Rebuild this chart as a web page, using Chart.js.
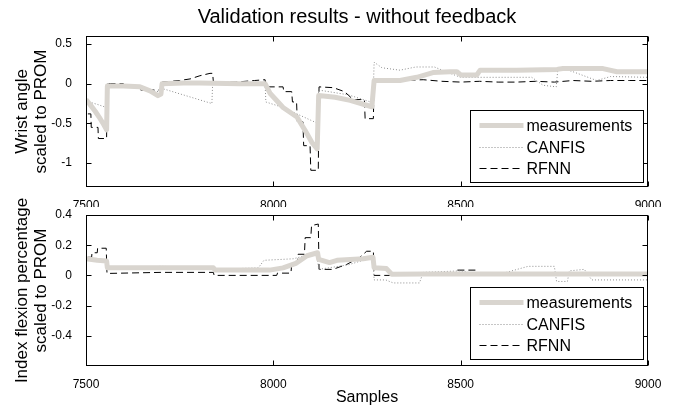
<!DOCTYPE html>
<html>
<head>
<meta charset="utf-8">
<script src="https://cdn.jsdelivr.net/npm/chart.js@4.4.0/dist/chart.umd.min.js"></script>
<style>
  body { margin: 0; background: #fff; }
  #wrap { position: relative; width: 675px; height: 412px; font-family: "Liberation Sans", Arial, sans-serif; }
  #title { position: absolute; left: 0; top: 5px; width: 714px; text-align: center; font-size: 20px; line-height: 23px; color: #000; }
  #c1 { position: absolute; left: 0; top: 0; }
  #c2 { position: absolute; left: 0; top: 190px; }
</style>
</head>
<body>
<div id="wrap">
  <canvas id="c1" width="675" height="207"></canvas>
  <canvas id="c2" width="675" height="222"></canvas>
  <div id="title">Validation results - without feedback</div>
</div>
<script>
// tick labels
const xTicks = [7500, 8000, 8500, 9000];
const wristTicks = [-1, -0.5, 0, 0.5];
const indexTicks = [-0.4, -0.2, 0, 0.2, 0.4];
const seriesNames = ['measurements', 'CANFIS', 'RFNN'];

// wrist angle (top panel), [sample, value]
const wristMeas = [[7500,-0.2],[7512,-0.27],[7525,-0.35],[7535,-0.42],[7548,-0.52],[7555,-0.58],[7557,-0.03],[7600,-0.03],
  [7644,-0.04],[7671,-0.09],[7692,-0.15],[7700,-0.13],[7703,0.0],[7760,0.01],[7804,0.01],[7911,0.0],[7978,0.0],
  [7991,-0.12],[8026,-0.3],[8063,-0.42],[8085,-0.59],[8103,-0.74],[8117,-0.82],[8121,-0.15],[8165,-0.17],[8205,-0.21],
  [8263,-0.29],[8269,0.04],[8338,0.04],[8383,0.08],[8426,0.14],[8472,0.15],[8490,0.15],[8500,0.11],[8543,0.11],
  [8552,0.17],[8650,0.17],[8757,0.18],[8773,0.19],[8880,0.19],[8917,0.15],[9000,0.15]];
const wristCanfis = [[7500,-0.22],[7530,-0.26],[7555,-0.3],[7557,0.0],[7600,-0.03],[7650,-0.05],[7670,-0.09],[7700,-0.1],
  [7703,-0.06],[7836,-0.25],[7838,0.0],[7978,0.0],[7980,-0.23],[8026,-0.3],[8100,-0.46],[8119,-0.5],[8121,-0.08],
  [8200,-0.14],[8266,-0.24],[8269,0.27],[8290,0.2],[8338,0.17],[8380,0.21],[8430,0.21],[8472,0.13],[8500,0.08],
  [8690,0.08],[8720,-0.02],[8755,-0.04],[8760,0.21],[8800,0.15],[8863,0.04],[8900,0.09],[9000,0.08]];
const wristRfnn = [[7505,-0.38],[7513,-0.38],[7514,-0.55],[7532,-0.55],[7533,-0.69],[7555,-0.69],[7556,0.0],[7600,0.0],
  [7602,-0.03],[7644,-0.03],[7646,-0.08],[7700,-0.08],[7702,0.02],[7750,0.04],[7778,0.06],[7804,0.1],[7831,0.13],
  [7838,0.13],[7840,0.02],[7900,0.02],[7950,0.04],[7978,0.05],[7980,-0.04],[8026,-0.04],[8028,-0.1],[8049,-0.1],
  [8051,-0.23],[8062,-0.23],[8064,-0.48],[8079,-0.48],[8081,-0.78],[8098,-0.78],[8100,-1.09],[8120,-1.09],[8122,-0.04],
  [8160,-0.05],[8190,-0.1],[8213,-0.2],[8243,-0.2],[8245,-0.44],[8267,-0.44],[8269,0.04],[8340,0.04],[8400,0.05],
  [8450,0.03],[8500,0.02],[8550,0.03],[8600,0.02],[8650,0.02],[8700,0.03],[8750,0.02],[8800,0.04],[8850,0.03],
  [8900,0.04],[8950,0.04],[9000,0.04]];

// index flexion (bottom panel), [sample, value]
const indexMeas = [[7500,0.11],[7530,0.1],[7555,0.095],[7557,0.05],[7700,0.05],[7840,0.05],[7845,0.035],[7990,0.035],
  [8026,0.05],[8060,0.08],[8090,0.13],[8118,0.15],[8121,0.106],[8150,0.085],[8170,0.1],[8240,0.11],[8266,0.12],
  [8269,0.05],[8302,0.045],[8316,0.008],[8400,0.01],[9000,0.01]];
const indexCanfis = [[7500,0.1],[7555,0.1],[7557,0.045],[7650,0.055],[7700,0.06],[7840,0.05],[7842,0.04],[7960,0.05],
  [7975,0.1],[8053,0.11],[8116,0.15],[8121,0.04],[8200,0.07],[8266,0.12],[8269,-0.03],[8300,-0.03],[8320,-0.05],
  [8390,-0.05],[8400,0.02],[8500,0.03],[8540,0.01],[8600,0.005],[8680,0.06],[8750,0.06],[8756,-0.04],[8785,-0.04],
  [8790,0.03],[8830,0.04],[8850,-0.03],[9000,-0.03]];
const indexRfnn = [[7505,0.12],[7515,0.12],[7516,0.15],[7530,0.15],[7531,0.18],[7554,0.18],[7556,0.013],[7700,0.02],
  [7840,0.02],[7842,0.0],[8009,0.0],[8011,0.015],[8047,0.015],[8049,0.073],[8064,0.073],[8066,0.14],[8083,0.14],
  [8085,0.25],[8100,0.25],[8102,0.33],[8120,0.34],[8122,0.04],[8159,0.04],[8196,0.073],[8231,0.12],[8249,0.16],
  [8267,0.16],[8269,0.0],[8340,0.0],[8400,0.005],[8487,0.005],[8489,0.035],[8543,0.035],[8545,0.0],[9000,0.0]];

const FONT = '"Liberation Sans", Arial, sans-serif';

// MATLAB style box, inward ticks and boxed legend
const matlabFrame = {
  id: 'matlabFrame',
  afterDatasetsDraw(chart, args, opts) {
    const { ctx, chartArea: a, scales: { x, y } } = chart;
    const L = Math.round(a.left) + 0.5, R = Math.round(a.right) - 0.5;
    const T = Math.round(a.top) + 0.5, B = Math.round(a.bottom) - 0.5;
    ctx.save();
    ctx.strokeStyle = '#000';
    ctx.lineWidth = 1;
    ctx.setLineDash([]);
    ctx.strokeRect(L, T, R - L, B - T);
    ctx.beginPath();
    x.ticks.forEach(t => {
      const p = Math.round(x.getPixelForValue(t.value)) + 0.5;
      ctx.moveTo(p, B); ctx.lineTo(p, B - 5);
      ctx.moveTo(p, T); ctx.lineTo(p, T + 5);
    });
    y.ticks.forEach(t => {
      const p = Math.round(y.getPixelForValue(t.value)) + 0.5;
      ctx.moveTo(L, p); ctx.lineTo(L + 5, p);
      ctx.moveTo(R, p); ctx.lineTo(R - 5, p);
    });
    ctx.stroke();

    // legend
    const w = 173, h = 72;
    const bx = Math.round(a.right - 5 - w) + 0.5;
    const by = Math.round(a.bottom - opts.gap - h) + 0.5;
    ctx.fillStyle = '#fff';
    ctx.fillRect(bx, by, w, h);
    ctx.strokeRect(bx, by, w, h);
    const rows = [14.5, 36, 57];
    ctx.font = '16px ' + FONT;
    ctx.textBaseline = 'middle';
    chart.data.datasets.forEach((ds, i) => {
      const yy = Math.round(by + rows[i]) + 0.5;
      ctx.beginPath();
      ctx.strokeStyle = ds.borderColor;
      ctx.lineWidth = ds.borderWidth;
      ctx.setLineDash(ds.borderDash || []);
      ctx.moveTo(bx + 9, yy);
      ctx.lineTo(bx + 53, yy);
      ctx.stroke();
      ctx.fillStyle = '#000';
      ctx.fillText(ds.label, bx + 56, yy + 1);
    });
    ctx.restore();
  }
};

function toPoints(arr) {
  return arr.map(p => ({ x: p[0], y: p[1] }));
}

function makeChart(id, meas, canfis, rfnn, yMin, yMax, yTicks, yTitle, xTitle, padTop, xHeight, gap) {
  return new Chart(document.getElementById(id), {
    type: 'line',
    data: {
      datasets: [
        { label: seriesNames[0], data: toPoints(meas), borderColor: '#d9d5cf', borderWidth: 5, borderJoinStyle: 'round' },
        { label: seriesNames[1], data: toPoints(canfis), borderColor: '#8c8c8c', borderWidth: 1, borderDash: [1, 2] },
        { label: seriesNames[2], data: toPoints(rfnn), borderColor: '#000', borderWidth: 1, borderDash: [7, 4] }
      ]
    },
    options: {
      responsive: false,
      animation: false,
      events: [],
      layout: { padding: { top: padTop, right: 27, left: 0, bottom: 0 } },
      elements: { point: { radius: 0 }, line: { tension: 0 } },
      plugins: {
        legend: { display: false },
        tooltip: { enabled: false },
        matlabFrame: { gap: gap }
      },
      scales: {
        x: {
          type: 'linear', min: 7500, max: 9000,
          afterBuildTicks: s => { s.ticks = xTicks.map(v => ({ value: v })); },
          afterFit: s => { s.height = xHeight; },
          grid: { display: false }, border: { display: false },
          ticks: { color: '#000', padding: 3, maxRotation: 0, font: { family: FONT, size: 12 }, callback: v => String(v) },
          title: { display: !!xTitle, text: xTitle, color: '#000', font: { family: FONT, size: 16 }, padding: { top: 0, bottom: 5 } }
        },
        y: {
          min: yMin, max: yMax,
          afterBuildTicks: s => { s.ticks = yTicks.map(v => ({ value: v })); },
          afterFit: s => { s.width = 86; },
          grid: { display: false }, border: { display: false },
          ticks: { color: '#000', padding: 6, font: { family: FONT, size: 12 }, callback: v => String(v) },
          title: { display: true, text: yTitle, color: '#000', font: { family: FONT, size: 17, lineHeight: 1.1 }, padding: { top: 13, bottom: 0 } }
        }
      }
    },
    plugins: [matlabFrame]
  });
}

makeChart('c1', wristMeas, wristCanfis, wristRfnn, -1.3, 0.6, wristTicks,
  ['Wrist angle', 'scaled to PROM'], '', 36, 20, 5);
makeChart('c2', indexMeas, indexCanfis, indexRfnn, -0.6, 0.4, indexTicks,
  ['Index flexion percentage', 'scaled to PROM'], 'Samples', 25, 46, 7);
</script>
</body>
</html>
